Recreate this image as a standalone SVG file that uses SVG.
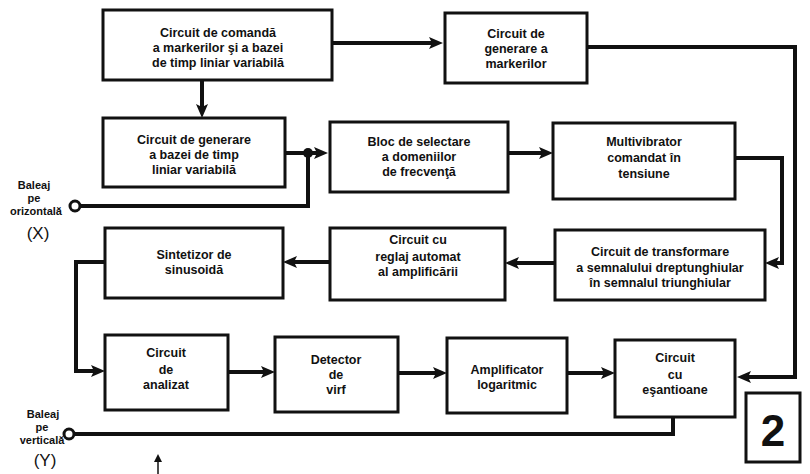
<svg xmlns="http://www.w3.org/2000/svg" width="810" height="474" viewBox="0 0 810 474">
<style>
.box{fill:#fff;stroke:#111;stroke-width:3}
.t{font-family:"Liberation Sans",Arial,sans-serif;font-weight:bold;font-size:12.5px;fill:#111;text-anchor:middle}
.lbl{font-family:"Liberation Sans",Arial,sans-serif;font-weight:bold;font-size:11px;fill:#111;text-anchor:middle}
.big{font-family:"Liberation Sans",Arial,sans-serif;font-size:17px;fill:#111;text-anchor:middle}
.c{fill:none;stroke:#111;stroke-width:4;stroke-linejoin:miter}
.term{fill:#fff;stroke:#111;stroke-width:3}
</style>
<defs>
<marker id="ah" markerUnits="userSpaceOnUse" markerWidth="16" markerHeight="12" refX="8" refY="6" orient="auto">
<path d="M0,0 L14,6 L0,12 L3,6 z" fill="#111"/>
</marker>
<marker id="ahs" markerUnits="userSpaceOnUse" markerWidth="8" markerHeight="8" refX="4" refY="4" orient="auto">
<path d="M0,0 L8,4 L0,8 z" fill="#111"/>
</marker>
</defs>
<rect width="810" height="474" fill="#fff"/>

<g id="connectors">
<path class="c" d="M332,43 L437,43" marker-end="url(#ah)"/>
<path class="c" d="M202,80 L202,112" marker-end="url(#ah)"/>
<path class="c" d="M587,47 L795,47 L795,377 L743,377" marker-end="url(#ah)"/>
<path class="c" d="M285,153 L322,153" marker-end="url(#ah)"/>
<circle cx="308" cy="153" r="5" fill="#111"/>
<path class="c" d="M80,206 L308,206 L308,153"/>
<path class="c" d="M508,153 L547,153" marker-end="url(#ah)"/>
<path class="c" d="M735,158 L782,158 L782,263 L771,263" marker-end="url(#ah)"/>
<path class="c" d="M555,263 L511,263" marker-end="url(#ah)"/>
<path class="c" d="M330,262 L289,262" marker-end="url(#ah)"/>
<path class="c" d="M105,262 L76,262 L76,371 L99,371" marker-end="url(#ah)"/>
<path class="c" d="M228,372 L269,372" marker-end="url(#ah)"/>
<path class="c" d="M398,373 L441,373" marker-end="url(#ah)"/>
<path class="c" d="M567,373 L609,373" marker-end="url(#ah)"/>
<path class="c" d="M673,417 L673,434 L74,434"/>
<circle class="term" cx="75" cy="206" r="5"/>
<circle class="term" cx="69" cy="434" r="5"/>
<path d="M158,474 L158,458" stroke="#111" stroke-width="1.5" marker-end="url(#ahs)"/>
</g>

<g id="n1">
<rect class="box" x="103" y="10" width="229" height="70"/>
<text class="t" x="218" y="37">Circuit de comandă</text>
<text class="t" x="218" y="52">a markerilor şi a bazei</text>
<text class="t" x="218" y="67">de timp liniar variabilă</text>
</g>
<g id="n2">
<rect class="box" x="445" y="13" width="142" height="70"/>
<text class="t" x="516" y="38">Circuit de</text>
<text class="t" x="516" y="53">generare a</text>
<text class="t" x="516" y="68">markerilor</text>
</g>
<g id="n3">
<rect class="box" x="103" y="118" width="182" height="69"/>
<text class="t" x="194" y="144">Circuit de generare</text>
<text class="t" x="194" y="159">a bazei de timp</text>
<text class="t" x="194" y="174">liniar variabilă</text>
</g>
<g id="n4">
<rect class="box" x="330" y="122" width="178" height="70"/>
<text class="t" x="419" y="146">Bloc de selectare</text>
<text class="t" x="419" y="161">a domeniilor</text>
<text class="t" x="419" y="176">de frecvenţă</text>
</g>
<g id="n5">
<rect class="box" x="553" y="123" width="182" height="76"/>
<text class="t" x="644" y="146">Multivibrator</text>
<text class="t" x="644" y="162">comandat în</text>
<text class="t" x="644" y="178">tensiune</text>
</g>
<g id="n6">
<rect class="box" x="555" y="230" width="210" height="70"/>
<text class="t" x="660" y="256">Circuit de transformare</text>
<text class="t" x="660" y="272">a semnalului dreptunghiular</text>
<text class="t" x="660" y="287">în semnalul triunghiular</text>
</g>
<g id="n7">
<rect class="box" x="330" y="228" width="175" height="72"/>
<text class="t" x="418" y="244">Circuit cu</text>
<text class="t" x="418" y="261">reglaj automat</text>
<text class="t" x="418" y="276">al amplificării</text>
</g>
<g id="n8">
<rect class="box" x="105" y="228" width="178" height="70"/>
<text class="t" x="194" y="259">Sintetizor de</text>
<text class="t" x="194" y="274">sinusoidă</text>
</g>
<g id="n9">
<rect class="box" x="105" y="335" width="123" height="75"/>
<text class="t" x="166" y="357">Circuit</text>
<text class="t" x="166" y="374">de</text>
<text class="t" x="166" y="389">analizat</text>
</g>
<g id="n10">
<rect class="box" x="275" y="337" width="123" height="75"/>
<text class="t" x="336" y="364">Detector</text>
<text class="t" x="336" y="379">de</text>
<text class="t" x="336" y="394">virf</text>
</g>
<g id="n11">
<rect class="box" x="447" y="338" width="120" height="75"/>
<text class="t" x="507" y="374">Amplificator</text>
<text class="t" x="507" y="389">logaritmic</text>
</g>
<g id="n12">
<rect class="box" x="615" y="340" width="120" height="77"/>
<text class="t" x="675" y="362">Circuit</text>
<text class="t" x="675" y="379">cu</text>
<text class="t" x="675" y="394">eşantioane</text>
</g>

<g id="labelX">
<text class="lbl" x="34" y="189">Baleaj</text>
<text class="lbl" x="34" y="202">pe</text>
<text class="lbl" x="36" y="215">orizontală</text>
<text class="big" x="38" y="239">(X)</text>
</g>
<g id="labelY">
<text class="lbl" x="43" y="418">Baleaj</text>
<text class="lbl" x="42" y="431">pe</text>
<text class="lbl" x="42" y="444">verticală</text>
<text class="big" x="45" y="466">(Y)</text>
</g>
<g id="fig">
<rect x="746" y="393" width="54" height="69" fill="#fff" stroke="#111" stroke-width="3"/>
<text x="773" y="446" font-family="Liberation Sans,Arial,sans-serif" font-weight="bold" font-size="44" text-anchor="middle" fill="#111">2</text>
</g>
</svg>
